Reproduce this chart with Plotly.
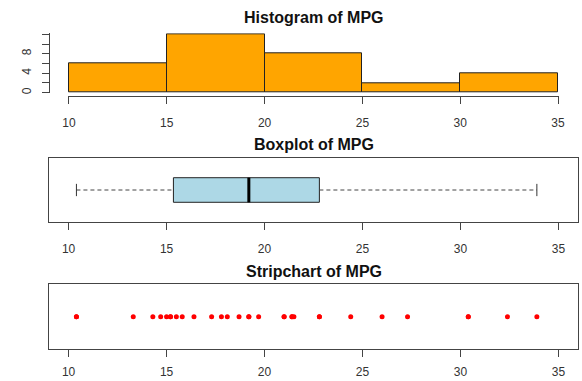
import plotly.graph_objects as go

# ---- data (mtcars mpg) ----
mpg = [21.0, 21.0, 22.8, 21.4, 18.7, 18.1, 14.3, 24.4, 22.8, 19.2, 17.8, 16.4,
       17.3, 15.2, 10.4, 10.4, 14.7, 32.4, 30.4, 33.9, 21.5, 15.5, 15.2, 13.3,
       19.2, 27.3, 26.0, 30.4, 15.8, 19.7, 15.0, 21.4]
hist_breaks = [10, 15, 20, 25, 30, 35]
hist_counts = [6, 12, 8, 2, 4]
box_min, box_q1, box_median, box_q3, box_max = 10.4, 15.35, 19.2, 22.8, 33.9
x_ticks = [10, 15, 20, 25, 30, 35]
hist_y_ticks = [0, 2, 4, 6, 8, 10, 12]
hist_y_labels = ["0", "", "4", "", "8", "", ""]
titles = ["Histogram of MPG", "Boxplot of MPG", "Stripchart of MPG"]

W, H = 582, 381
def px(x): return x / W
def py(y): return 1 - y / H

FONT = "Liberation Sans, Arial, sans-serif"
AX = "#444444"
TXT = "#333333"

fig = go.Figure()

# ---- histogram ----
mids = [(a + b) / 2 for a, b in zip(hist_breaks[:-1], hist_breaks[1:])]
widths = [b - a for a, b in zip(hist_breaks[:-1], hist_breaks[1:])]
fig.add_trace(go.Bar(x=mids, y=hist_counts, width=widths,
                     marker=dict(color="#FFA500", line=dict(color="#222222", width=1)),
                     xaxis="x", yaxis="y", showlegend=False, hoverinfo="x+y"))

# ---- boxplot ----
BW = 0.384
fig.add_trace(go.Box(orientation="h", y=[0.5], q1=[box_q1], median=[box_median],
                     q3=[box_q3], lowerfence=[box_q1], upperfence=[box_q3],
                     width=BW, whiskerwidth=0, fillcolor="#ADD8E6",
                     line=dict(color="#222222", width=1),
                     xaxis="x2", yaxis="y2", showlegend=False, hoverinfo="skip"))
# median (thick)
fig.add_trace(go.Scatter(x=[box_median, box_median], y=[0.5 - BW / 2, 0.5 + BW / 2],
                         mode="lines", line=dict(color="#000000", width=3),
                         xaxis="x2", yaxis="y2", showlegend=False, hoverinfo="skip"))
# dashed whiskers
for a, b in [(box_min, box_q1), (box_q3, box_max)]:
    fig.add_trace(go.Scatter(x=[a, b], y=[0.5, 0.5], mode="lines",
                             line=dict(color="#444444", width=1, dash="4px,3px"),
                             xaxis="x2", yaxis="y2", showlegend=False, hoverinfo="skip"))
# staples
for v in [box_min, box_max]:
    fig.add_trace(go.Scatter(x=[v, v], y=[0.5 - BW / 4, 0.5 + BW / 4], mode="lines",
                             line=dict(color="#333333", width=1),
                             xaxis="x2", yaxis="y2", showlegend=False, hoverinfo="skip"))

# ---- stripchart ----
fig.add_trace(go.Scatter(x=mpg, y=[0.5] * len(mpg), mode="markers",
                         marker=dict(color="#FF0000", size=5),
                         xaxis="x3", yaxis="y3", showlegend=False))

tickfont = dict(family=FONT, size=12, color=TXT)

def xax(domain, rng, **kw):
    d = dict(domain=domain, range=rng, tickvals=x_ticks, ticks="outside", ticklen=7,
             tickcolor=AX, showgrid=False, zeroline=False, showline=True,
             linecolor=AX, linewidth=1, tickfont=tickfont, fixedrange=True,
             automargin=False)
    d.update(kw)
    return d

plot_l, plot_r = 49, 578
fig.update_layout(
    width=W, height=H, margin=dict(l=0, r=0, t=0, b=0, pad=0, autoexpand=False),
    plot_bgcolor="white", paper_bgcolor="white",
    bargap=0,
    # histogram axes
    xaxis=xax([px(68), px(559)], [9.95, 35.05], anchor="free", position=py(96),
              ticklabelstandoff=9),
    yaxis=dict(domain=[py(93.2), py(33.3)], range=[-0.1, 12.2], anchor="free",
               position=px(49), tickvals=hist_y_ticks, ticktext=hist_y_labels,
               ticks="outside", ticklen=7, tickcolor=AX, showline=True, linecolor=AX,
               linewidth=1, showgrid=False, zeroline=False, tickangle=-90,
               tickfont=tickfont, ticklabelstandoff=6, fixedrange=True,
               automargin=False),
    # boxplot axes
    xaxis2=xax([px(plot_l), px(plot_r)], [9, 36], anchor="y2", mirror=True,
               ticklabelstandoff=9),
    yaxis2=dict(domain=[py(222), py(158)], range=[0, 1], anchor="x2", showline=True,
                mirror=True, linecolor=AX, linewidth=1, showticklabels=False,
                showgrid=False, zeroline=False, ticks="", fixedrange=True,
                automargin=False),
    # stripchart axes
    xaxis3=xax([px(plot_l), px(plot_r)], [9, 36], anchor="y3", mirror=True,
               ticklabelstandoff=5),
    yaxis3=dict(domain=[py(349), py(284.3)], range=[0, 1], anchor="x3", showline=True,
                mirror=True, linecolor=AX, linewidth=1, showticklabels=False,
                showgrid=False, zeroline=False, ticks="", fixedrange=True,
                automargin=False),
)

title_y = [17.5, 144, 271.7]
for t, yy in zip(titles, title_y):
    fig.add_annotation(text="<b>%s</b>" % t, x=px((plot_l + plot_r) / 2), y=py(yy),
                       xref="paper", yref="paper", xanchor="center", yanchor="middle",
                       showarrow=False, font=dict(family=FONT, size=16, color="#111111"))

fig.write_html("out.html")
